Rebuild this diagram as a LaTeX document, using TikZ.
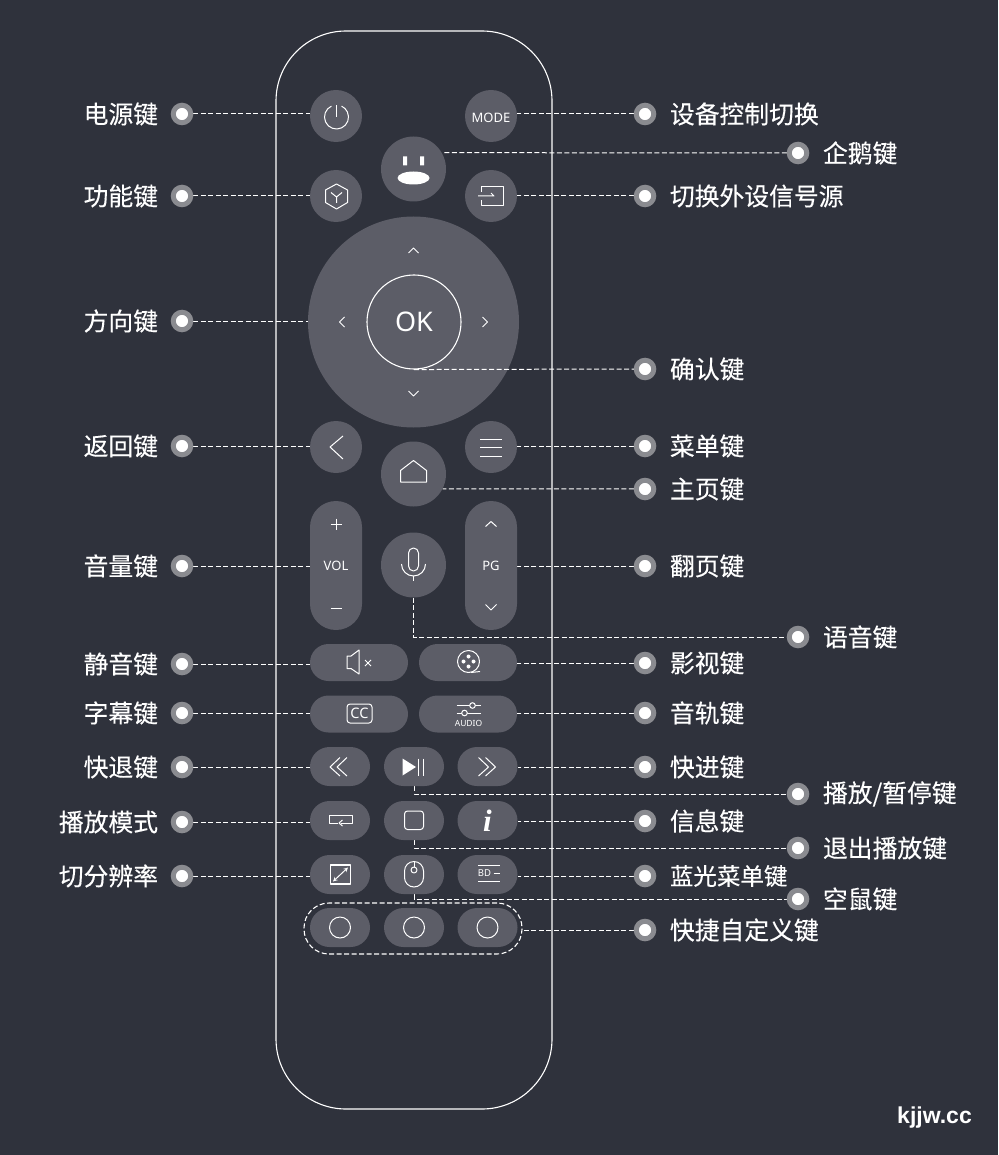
\documentclass[tikz,border=0pt]{standalone}
\usepackage{fontspec}
\setmainfont{Noto Sans}
\newfontfamily\cjk[FakeBold=0.25]{Noto Sans CJK SC}
\newfontfamily\ifont{Liberation Serif}
\newfontfamily\markfont{Liberation Sans}
\usetikzlibrary{arrows,positioning,shapes.geometric}
\pgfdeclarelayer{background}
\pgfsetlayers{background,main}
\definecolor{pagebg}{HTML}{2F323C}
\definecolor{keybg}{HTML}{5C5D67}
\definecolor{ringgray}{HTML}{8A8B90}
\tikzstyle{hotdot}=[circle,fill=white,draw=ringgray,line width=5pt,minimum size=17.5pt,inner sep=0pt]
\tikzstyle{link} = [draw=white,line width=1pt,dash pattern=on 5pt off 2.5pt]
\tikzstyle{keylabel} = [text=white,inner sep=0pt,font=\cjk\fontsize{24.8}{28}\selectfont]
\tikzstyle{roundkey}=[circle,fill=keybg,inner sep=0pt]
\tikzstyle{pillkey}=[rectangle,fill=keybg,inner sep=0pt]
\tikzstyle{icon} = [draw=white,line width=1pt,line join=round]
\tikzstyle{keytext} = [text=white,inner sep=0pt]

\begin{document}
\begin{tikzpicture}[x=1pt,y=-1pt]
	\useasboundingbox (0,0) rectangle (998,1155);
	\begin{pgfonlayer}{background}
		\fill[pagebg] (0,0) rectangle (998,1155);
	\end{pgfonlayer}

	% remote body
	\node[draw=white,line width=1.1pt,rectangle,rounded corners=70pt,minimum width=276pt,minimum height=1078pt,inner sep=0pt] (body) at (414,570) {};

	% round keys
	\foreach \pos/\name/\size in {{(336,116)/pwr/52pt}, {(491,116)/mode/52pt}, {(413.5,169)/penguin/65pt},
							{(336,196)/cube/52pt}, {(491,196)/source/52pt}, {(413.5,322)/dpad/211pt},
							{(336,447)/back/52pt}, {(491,447)/menu/52pt}, {(413.5,474)/home/65pt},
							{(413.5,565)/mic/65pt}}
	\node[roundkey,minimum size=\size] (\name) at \pos {};
	\node[circle,draw=white,line width=1.1pt,minimum size=94pt,inner sep=0pt] (ok) at (414,322) {};
	\node[keytext,font=\fontsize{27}{30}\selectfont] at (ok) {OK};

	% pill keys
	\foreach \pos/\name/\wid/\hei/\rad in {{(336,565.5)/vol/52pt/129pt/26pt}, {(491,565.5)/page/52pt/129pt/26pt},
							{(359,662.5)/mute/98pt/37pt/18.5pt}, {(468,662.5)/film/98pt/37pt/18.5pt},
							{(359,714)/cc/98pt/37pt/18.5pt}, {(468,714)/audio/98pt/37pt/18.5pt},
							{(340,766.5)/rew/60pt/39pt/19.5pt}, {(414,766.5)/play/60pt/39pt/19.5pt}, {(487.5,766.5)/ffw/60pt/39pt/19.5pt},
							{(340,820.5)/rpt/60pt/39pt/19.5pt}, {(414,820.5)/stopkey/60pt/39pt/19.5pt}, {(487.5,820.5)/info/60pt/39pt/19.5pt},
							{(340,874.5)/zoomkey/60pt/39pt/19.5pt}, {(414,874.5)/mouse/60pt/39pt/19.5pt}, {(487.5,874.5)/bd/60pt/39pt/19.5pt},
							{(340,927.5)/fav1/60pt/39pt/19.5pt}, {(414,927.5)/fav2/60pt/39pt/19.5pt}, {(487.5,927.5)/fav3/60pt/39pt/19.5pt}}
	\node[pillkey,minimum width=\wid,minimum height=\hei,rounded corners=\rad] (\name) at \pos {};
	\node[rectangle,draw=white,line width=1.1pt,dash pattern=on 5pt off 2.5pt,rounded corners=25pt,minimum width=218pt,minimum height=51pt,inner sep=0pt] (fav) at (413,928.5) {};

	% hot spots with their labels
	\foreach \y/\name/\txt in {114/lpwr/电源键, 196/lcube/功能键, 321/ldpad/方向键, 446/lback/返回键, 566/lvol/音量键,
							664/lmute/静音键, 713/lcc/字幕键, 767/lrew/快退键, 822/lrpt/播放模式, 876/lzoom/切分辨率}
	{
		\node[hotdot] (\name) at (182,\y) {};
		\node[keylabel,left=12.5pt of \name] {\txt};
	}
	\foreach \y/\name/\txt in {114/rmode/设备控制切换, 196/rsource/切换外设信号源, 369/rok/确认键, 446/rmenu/菜单键, 489/rhome/主页键,
							566/rpage/翻页键, 663/rfilm/影视键, 713/raudio/音轨键, 767/rffw/快进键, 821/rinfo/信息键,
							876/rbd/{\fontsize{23.5}{28}\selectfont 蓝光菜单键}, 930/rfav/快捷自定义键}
	{
		\node[hotdot] (\name) at (645,\y) {};
		\node[keylabel,right=13.5pt of \name] {\txt};
	}
	\foreach \y/\name/\txt in {153/fpenguin/企鹅键, 637/fmic/语音键, 794/fplay/{播放/暂停键}, 848/fstop/退出播放键, 899/fmouse/空鼠键}
	{
		\node[hotdot] (\name) at (798,\y) {};
		\node[keylabel,right=13.5pt of \name] {\txt};
	}

	% connect hot spots with keys
	\begin{pgfonlayer}{background}
		\foreach \source/\dest in {lpwr/pwr, lcube/cube, ldpad/dpad, lback/back, lvol/vol, lmute/mute, lcc/cc, lrew/rew, lrpt/rpt, lzoom/zoomkey}
		\path[link] (\source) -- (\source -| \dest.west);
		\foreach \source/\dest in {rmode/mode, rsource/source, rmenu/menu, rpage/page, rfilm/film, raudio/audio, rffw/ffw, rinfo/info, rbd/bd, rfav/fav}
		\path[link] (\source) -- (\source -| \dest.east);
		\path[link] (fpenguin) -- (penguin.30);
		\path[link] (rhome) -- (home.-27);
		\foreach \source/\dest in {mic/fmic, play/fplay, stopkey/fstop, mouse/fmouse}
		\path[link] (\source.south) |- (\dest);
	\end{pgfonlayer}
	\path[link] (ok.south) -- (rok.west);

	% key faces
	\begin{scope}[shift={(pwr)}]
		\draw[icon] ([shift={(0.5,1)}]115:12pt) arc[start angle=115,end angle=425,radius=12pt];
		\draw[icon] (0.5,-11) -- (0.5,1);
	\end{scope}
	\node[keytext,font=\fontsize{13}{15}\selectfont] at (491,117.5) {MODE};
	\begin{scope}[shift={(penguin)}]
		\fill[white] (-10.5,-12.5) rectangle (-6.5,-3.5) (6.5,-12.5) rectangle (10.5,-3.5);
		\fill[white] (0,9) ellipse[x radius=16pt,y radius=6.5pt];
	\end{scope}
	\begin{scope}[shift={(cube)}]
		\draw[icon] (0.5,-12) -- (11.5,-6) -- (11.5,6.5) -- (0.5,13) -- (-10.5,6.5) -- (-10.5,-6) -- cycle;
		\draw[icon] (-5,-3.5) -- (0.5,1) -- (6,-3.5) (0.5,1) -- (0.5,7);
	\end{scope}
	\begin{scope}[shift={(source)}]
		\draw[icon] (-10,-4) -- (-10,-9) -- (12,-9) -- (12,10) -- (-10,10) -- (-10,4);
		\draw[icon] (-13,0) -- (3,0) -- (0,-3);
	\end{scope}
	\begin{scope}[shift={(dpad)}]
		\draw[icon] (-5,-69) -- (0,-74) -- (5,-69);
		\draw[icon] (-5,69) -- (0,74) -- (5,69);
		\draw[icon] (-69,-5) -- (-74,0) -- (-69,5);
		\draw[icon] (69,-5) -- (74,0) -- (69,5);
	\end{scope}
	\begin{scope}[shift={(back)}]
		\draw[icon] (7,-11) -- (-6,0) -- (7,12);
	\end{scope}
	\begin{scope}[shift={(menu)}]
		\draw[icon] (-11,-7.5) -- (11,-7.5) (-11,0.5) -- (11,0.5) (-11,9) -- (11,9);
	\end{scope}
	\begin{scope}[shift={(home)}]
		\draw[icon] (-13,8) -- (-13,-3.5) -- (0,-13.5) -- (13,-3.5) -- (13,8) -- cycle;
	\end{scope}
	\begin{scope}[shift={(vol)}]
		\draw[icon] (-5.5,-41.5) -- (5.5,-41.5) (0,-47) -- (0,-36);
		\draw[icon] (-5.5,42.5) -- (5.5,42.5);
	\end{scope}
	\node[keytext,font=\fontsize{13}{15}\selectfont] at (vol) {VOL};
	\begin{scope}[shift={(page)}]
		\draw[icon] (-5.5,-39) -- (0,-44) -- (5.5,-39);
		\draw[icon] (-5.5,39) -- (0,44.5) -- (5.5,39);
	\end{scope}
	\node[keytext,font=\fontsize{13}{15}\selectfont] at (page) {PG};
	\begin{scope}[shift={(mic)}]
		\draw[icon,rounded corners=5pt] (-5,-17) rectangle (5,6);
		\draw[icon] (-12,-1) arc[start angle=180,end angle=360,radius=12pt];
		\draw[icon] (0,11) -- (0,16);
	\end{scope}
	\begin{scope}[shift={(mute)}]
		\draw[icon] (-8,-6.5) -- (-12,-6.5) -- (-12,6) -- (-8,6) -- (0,11.5) -- (0,-12.5) -- cycle;
		\draw[icon] (6,-2.5) -- (12,3.5) (12,-2.5) -- (6,3.5);
	\end{scope}
	\begin{scope}[shift={(film)}]
		\draw[icon] (0.5,-1) circle[radius=11pt];
		\fill[white] (0.5,-6) circle[radius=2pt] (5.5,-1) circle[radius=2pt] (0.5,4) circle[radius=2pt] (-4.5,-1) circle[radius=2pt];
		\draw[icon] (3,10) -- (12,9);
	\end{scope}
	\begin{scope}[shift={(cc)}]
		\draw[icon,rounded corners=3pt] (-12,-10) rectangle (13,9);
		\node[keytext,font=\fontsize{14.5}{16}\selectfont] at (0.5,-0.5) {CC};
	\end{scope}
	\begin{scope}[shift={(audio)}]
		\draw[icon] (-11.5,-8.5) -- (12.5,-8.5) (-11.5,-1) -- (12.5,-1);
		\draw[icon,fill=keybg] (4.5,-8.5) circle[radius=2.8pt] (-3.5,-1) circle[radius=2.8pt];
		\node[keytext,font=\fontsize{8.5}{10}\selectfont] at (0.5,9) {AUDIO};
	\end{scope}
	\begin{scope}[shift={(rew)}]
		\draw[icon] (0,-9) -- (-10,0.5) -- (0,9.5) (7,-9) -- (-3,0.5) -- (7,9.5);
	\end{scope}
	\begin{scope}[shift={(play)}]
		\fill[white] (-11.5,-8) -- (2,0.5) -- (-11.5,9) -- cycle;
		\draw[icon] (4.5,-8) -- (4.5,9) (9.5,-8) -- (9.5,9);
	\end{scope}
	\begin{scope}[shift={(ffw)}]
		\draw[icon] (-9,-9) -- (1,0.5) -- (-9,9.5) (-2,-9) -- (8,0.5) -- (-2,9.5);
	\end{scope}
	\begin{scope}[shift={(rpt)}]
		\draw[icon] (-2,2.5) -- (-10.5,2.5) -- (-10.5,-5.5) -- (12,-5.5) -- (12,2.5) -- (1,2.5);
		\draw[icon] (2.5,-0.5) -- (-1,2.5) -- (2.5,5.5);
	\end{scope}
	\begin{scope}[shift={(stopkey)}]
		\draw[icon,rounded corners=3pt] (-9.5,-9.5) rectangle (9.5,9);
	\end{scope}
	\node[keytext,font=\ifont\bfseries\itshape\fontsize{31}{33}\selectfont] at (info) {i};
	\begin{scope}[shift={(zoomkey)}]
		\draw[icon,line width=1.5pt] (-9.5,-9.5) rectangle (10.5,9.5);
		\draw[icon,stealth-stealth] (-7,7) -- (8,-7);
	\end{scope}
	\begin{scope}[shift={(mouse)}]
		\draw[icon,rounded corners=9.5pt] (-9.5,-13) rectangle (9.5,12.5);
		\draw[icon] (0,-4.5) circle[radius=3pt];
		\draw[icon] (0,-13) -- (0,-7.5);
	\end{scope}
	\begin{scope}[shift={(bd)}]
		\draw[icon] (-9.5,-9.5) -- (12.5,-9.5) (-9.5,6.5) -- (12.5,6.5) (6,-1.5) -- (12.5,-1.5);
		\node[keytext,font=\fontsize{9.5}{11}\selectfont] at (-3,-1.5) {BD};
	\end{scope}
	\foreach \name in {fav1,fav2,fav3}
	\draw[icon] (\name) circle[radius=10.5pt];

	\node[keytext,font=\markfont\bfseries\fontsize{23}{26}\selectfont] (mark) at (934.5,1118) {kjjw.cc};
\end{tikzpicture}
\end{document}
